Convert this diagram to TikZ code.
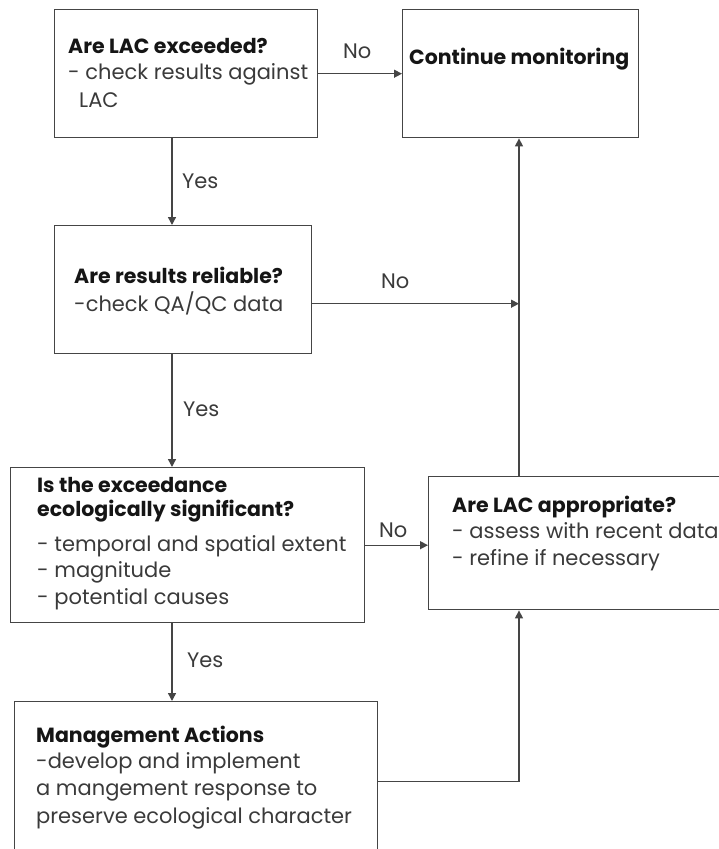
\documentclass[tikz,border=0pt]{standalone}
\usepackage{fontspec}
\setmainfont{Poppins}
\usetikzlibrary{arrows.meta}
\definecolor{linegray}{HTML}{454545}
\definecolor{bodygray}{HTML}{3A3A3A}
\definecolor{titleblack}{HTML}{151515}
\tikzset{
  box/.style={draw=linegray, line width=1.4pt, inner sep=0pt, anchor=north west},
  title/.style={anchor=base west, inner sep=0pt, font=\fontsize{20.5}{24}\selectfont\bfseries, text=titleblack},
  body/.style={anchor=base west, inner sep=0pt, font=\fontsize{21}{24}\selectfont, text=bodygray},
  lbl/.style={anchor=base west, inner sep=0pt, font=\fontsize{21}{24}\selectfont, text=bodygray},
  flow/.style={draw=linegray, line width=1.4pt, -{Triangle[length=8pt,width=8pt]}},
  link/.style={draw=linegray, line width=1.4pt},
}
\begin{document}
\begin{tikzpicture}[x=1pt,y=-1pt]
  \useasboundingbox (0,0) rectangle (719,849);
  % boxes
  \node[box, minimum width=263pt, minimum height=128pt] (exceed)  at (54,9) {};
  \node[box, minimum width=236pt, minimum height=128pt] (cont)    at (402,9) {};
  \node[box, minimum width=257pt, minimum height=128pt] (reliable) at (54,225) {};
  \node[box, minimum width=354pt, minimum height=155pt] (signif)  at (10,467) {};
  \node[box, minimum width=300pt, minimum height=133pt] (approp)  at (428,476) {};
  \node[box, minimum width=363pt, minimum height=160pt] (mgmt)    at (14,701) {};

  % texts
  \node[title] (exceedT)  at (68,53)  {Are LAC exceeded?};
  \node[body]  (exceedB1) at (68,79)  {- check results against};
  \node[body]  (exceedB2) at (79,107) {LAC};

  \node[title] (contT) at (409,64) {Continue monitoring};

  \node[title] (relT) at (74,283) {Are results reliable?};
  \node[body]  (relB) at (74,311) {-check QA/QC data};

  \node[title] (sigT1) at (37,492) {Is the exceedance};
  \node[title] (sigT2) at (37,516) {ecologically significant?};
  \node[body]  (sigB1) at (37,551) {- temporal and spatial extent};
  \node[body]  (sigB2) at (37,577) {- magnitude};
  \node[body]  (sigB3) at (37,604) {- potential causes};

  \node[title] (appT)  at (452,512) {Are LAC appropriate?};
  \node[body]  (appB1) at (452,538) {- assess with recent data};
  \node[body]  (appB2) at (452,565) {- refine if necessary};

  \node[title] (mgmtT)  at (36,742) {Management Actions};
  \node[body]  (mgmtB1) at (36,768) {-develop and implement};
  \node[body]  (mgmtB2) at (36,795) {a mangement response to};
  \node[body]  (mgmtB3) at (36,823) {preserve ecological character};

  % connector guides
  \coordinate (downx) at (172,0);
  \coordinate (upx)   at (519,0);
  \coordinate (relout) at ([yshift=-14pt]reliable.east);

  % connectors
  \draw[flow] (exceed.east) -- (exceed.east -| cont.west);
  \draw[flow] (exceed.south -| downx) -- (reliable.north -| downx);
  \draw[flow] (relout) -- (relout -| upx);
  \draw[flow] (reliable.south -| downx) -- (signif.north -| downx);
  \draw[flow] (signif.east) -- (signif.east -| approp.west);
  \draw[flow] (signif.south -| downx) -- (mgmt.north -| downx);
  \draw[flow] (approp.north -| upx) -- (cont.south -| upx);
  \draw[flow] (mgmt.east) -| (approp.south -| upx);

  % branch labels
  \node[lbl] (noA)  at (343,58)  {No};
  \node[lbl] (yesA) at (182,188) {Yes};
  \node[lbl] (noB)  at (381,288) {No};
  \node[lbl] (yesB) at (183,416) {Yes};
  \node[lbl] (noC)  at (379,537) {No};
  \node[lbl] (yesC) at (187,667) {Yes};
\end{tikzpicture}
\end{document}
